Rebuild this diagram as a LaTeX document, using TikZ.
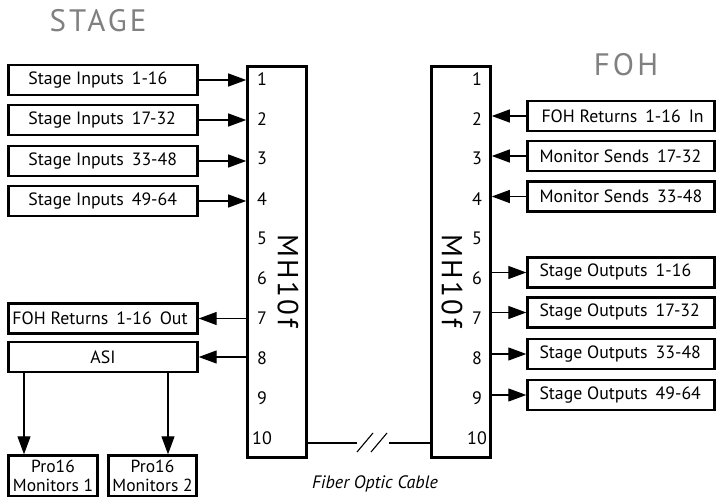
\documentclass[tikz,border=0pt]{standalone}
\usepackage{fontspec}
\setmainfont{PT Sans}
\usetikzlibrary{arrows.meta}
\newcommand{\boxtext}[3]{\makebox[#1][l]{\hspace{#2}#3}}
\newcommand{\gp}{\hspace{0.45em}}
\tikzset{
  tbox/.style={draw, line width=2.4pt, minimum height=30pt, inner xsep=0pt, inner ysep=0pt, font=\fontsize{17.8}{19}\selectfont},
  unit/.style={draw, line width=2.6pt, minimum width=59pt, minimum height=391pt},
  port/.style={font=\fontsize{18}{19}\selectfont, inner sep=0pt},
  arr/.style={-{Triangle[length=18pt,width=13pt]}, line width=1.2pt},
  title/.style={text=black!50, font=\fontsize{31}{32}\selectfont\addfontfeature{LetterSpace=10}},
  unitname/.style={rotate=-90, font=\fontsize{29}{30}\selectfont\addfontfeature{LetterSpace=8}}
}
\begin{document}
\begin{tikzpicture}[x=1pt,y=-1pt]
\useasboundingbox (0,0) rectangle (716,497);
% titles
\node[title] (stage) at (98,21) {STAGE};
\node[title] (foh) at (626,65) {FOH};
% units
\node[unit] (L) at (277,262) {};
\node[unit] (R) at (461,262) {};
\node[unitname] (Ln) at (288,281) {MH10f};
\node[unitname] (Rn) at (452,281) {MH10f};
\foreach \i in {1,...,10} {
  \node[port] (L\i) at (262,{79+39.9*(\i-1)}) {\i};
  \node[port] (R\i) at (477,{79+39.9*(\i-1)}) {\i};
}
% left inputs
\node[tbox] (si1) at (103,80) {\boxtext{189pt}{20pt}{Stage Inputs\gp 1-16}};
\node[tbox] (si2) at (103,120) {\boxtext{189pt}{20pt}{Stage Inputs\gp 17-32}};
\node[tbox] (si3) at (103,161) {\boxtext{189pt}{20pt}{Stage Inputs\gp 33-48}};
\node[tbox] (si4) at (103,201) {\boxtext{189pt}{20pt}{Stage Inputs\gp 49-64}};
\foreach \n in {si1,si2,si3,si4} \draw[arr] (\n.east) -- (\n.east -| L.west);
% left outputs
\node[tbox] (fo) at (103,318.5) {\boxtext{189pt}{4pt}{FOH Returns\gp 1-16\gp Out}};
\node[tbox] (asi) at (103,357) {\makebox[189pt][c]{ASI}};
\draw[arr] (fo.east -| L.west) -- (fo.east);
\draw[arr] (asi.east -| L.west) -- (asi.east);
% monitors
\node[tbox, minimum width=89pt, minimum height=41pt, align=center, font=\fontsize{17.5}{19}\selectfont] (p1) at (53,476) {Pro16\\Monitors 1};
\node[tbox, minimum width=88pt, minimum height=41pt, align=center, font=\fontsize{17.5}{19}\selectfont] (p2) at (152.5,476) {Pro16\\Monitors 2};
\draw[arr] ([xshift=-29pt]p1.north |- asi.south) -- ([xshift=-29pt]p1.north);
\draw[arr] ([xshift=15.5pt]p2.north |- asi.south) -- ([xshift=15.5pt]p2.north);
% right inputs
\node[tbox] (fi) at (621,116) {\boxtext{187pt}{14pt}{FOH Returns\gp 1-16\gp In}};
\node[tbox] (ms1) at (621,156) {\boxtext{187pt}{12pt}{Monitor Sends\gp 17-32}};
\node[tbox] (ms2) at (621,196.5) {\boxtext{187pt}{12pt}{Monitor Sends\gp 33-48}};
\foreach \n in {fi,ms1,ms2} \draw[arr] (\n.west) -- (\n.west -| R.east);
% right outputs
\node[tbox] (so1) at (621,272.5) {\boxtext{187pt}{12pt}{Stage Outputs\gp 1-16}};
\node[tbox] (so2) at (621,312.5) {\boxtext{187pt}{12pt}{Stage Outputs\gp 17-32}};
\node[tbox] (so3) at (621,354) {\boxtext{187pt}{12pt}{Stage Outputs\gp 33-48}};
\node[tbox] (so4) at (621,395) {\boxtext{187pt}{12pt}{Stage Outputs\gp 49-64}};
\foreach \n in {so1,so2,so3,so4} \draw[arr] (\n.west -| R.east) -- (\n.west);
% fiber cable
\coordinate (c1) at (357,443);
\coordinate (c2) at (389,443);
\draw[line width=1.1pt] (L.east |- c1) -- (c1);
\draw[line width=1.1pt] (c2) -- (R.west |- c2);
\draw[line width=1.1pt] (357,452) -- (373,433);
\draw[line width=1.1pt] (371,452) -- (387,433);
\node[font=\fontsize{18}{19}\selectfont\itshape] (fc) at (375,484) {Fiber Optic Cable};
\end{tikzpicture}
\end{document}
